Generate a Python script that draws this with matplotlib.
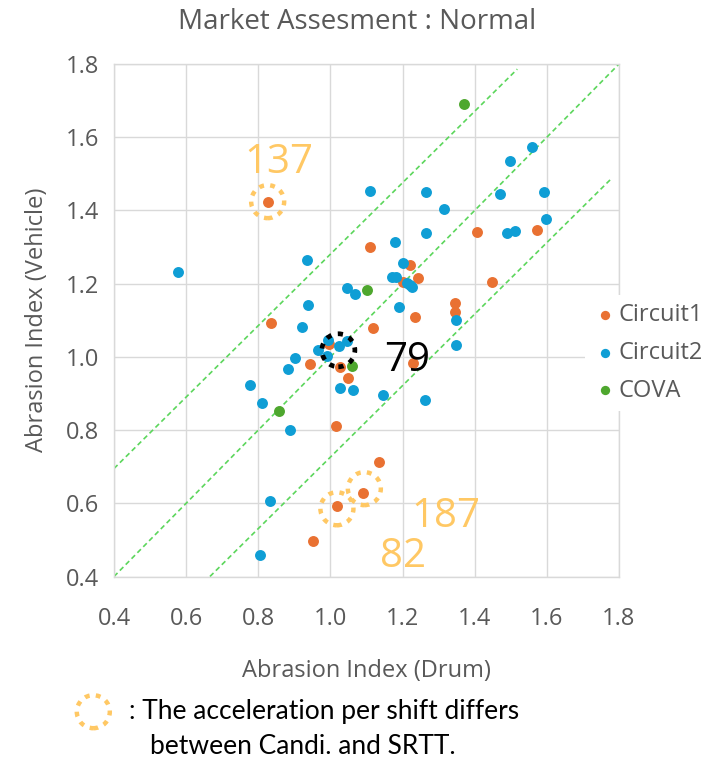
import matplotlib
matplotlib.use("Agg")
import matplotlib.pyplot as plt
from matplotlib.patches import Ellipse, Circle

plt.rcParams["font.family"] = ["Open Sans", "DejaVu Sans"]

circuit1_x = [0.826, 1.109, 0.834, 1.407, 1.574, 1.220, 1.243, 1.201, 1.449, 1.234, 1.346,
              1.345, 1.118, 1.229, 1.135, 1.091, 1.018, 0.952, 1.016, 0.942, 1.027, 1.050, 0.996]
circuit1_y = [1.424, 1.300, 1.093, 1.340, 1.347, 1.251, 1.216, 1.205, 1.204, 1.110, 1.146,
              1.123, 1.078, 0.982, 0.712, 0.627, 0.592, 0.498, 0.810, 0.980, 0.973, 0.943, 1.036]

circuit2_x = [0.577, 0.934, 1.046, 1.068, 0.937, 1.109, 1.559, 1.498, 1.266, 1.471, 1.592,
              1.315, 1.599, 1.489, 1.512, 1.266, 1.179, 1.200, 1.172, 1.183, 1.211, 1.220,
              1.226, 1.189, 1.349, 1.347, 1.145, 1.261, 0.920, 0.994, 0.966, 1.025, 1.045,
              0.990, 0.903, 0.882, 0.776, 1.027, 1.063, 0.810, 0.888, 0.832, 0.806]
circuit2_y = [1.232, 1.264, 1.187, 1.171, 1.143, 1.453, 1.572, 1.535, 1.450, 1.445, 1.449,
              1.405, 1.376, 1.338, 1.343, 1.338, 1.314, 1.257, 1.217, 1.218, 1.202, 1.196,
              1.190, 1.135, 1.102, 1.032, 0.896, 0.881, 1.082, 1.046, 1.020, 1.030, 1.044,
              1.003, 0.997, 0.966, 0.923, 0.914, 0.909, 0.874, 0.800, 0.605, 0.458]

cova_x = [1.370, 1.100, 1.059, 0.858]
cova_y = [1.690, 1.183, 0.976, 0.852]

# guide lines (start, end) in data units
guide_center = ([0.4, 1.8], [0.4, 1.8])
guide_upper = ([0.4, 1.518], [0.695, 1.786])
guide_lower = ([0.666, 1.780], [0.4, 1.488])

# highlighted samples: label, circle centre, label position
yellow_marks = [("137", (0.826, 1.424), (0.856, 1.530)),
                ("187", (1.018, 0.585), (1.320, 0.563)),
                ("82", (1.094, 0.640), (1.201, 0.453))]
black_mark = ("79", (1.022, 1.018), (1.212, 0.990))

orange = "#E97132"
blue = "#0F9ED5"
green = "#4EA72E"
yellow = "#FFC864"
gray = "#595959"
guide_color = "#5CD65C"

fig = plt.figure(figsize=(7.05, 7.57), dpi=100)
ax = fig.add_axes([114 / 705, 1 - 576.5 / 757, 505 / 705, 512.5 / 757])

for gx, gy in (guide_center, guide_upper, guide_lower):
    ax.plot(gx, gy, color=guide_color, lw=1.2, ls=(0, (3, 2)), zorder=2)

ax.scatter(circuit1_x, circuit1_y, s=62, color=orange, label="Circuit1", zorder=3, linewidths=0)
ax.scatter(circuit2_x, circuit2_y, s=62, color=blue, label="Circuit2", zorder=3, linewidths=0)
ax.scatter(cova_x, cova_y, s=62, color=green, label="COVA", zorder=3, linewidths=0)

rx = 16.5 / 360.7
ry = 16.5 / 366
for label, (cx, cy), (tx, ty) in yellow_marks:
    ax.add_patch(Ellipse((cx, cy), 2 * rx, 2 * ry, fill=False, edgecolor=yellow,
                         lw=3.2, ls=(0, (1.1, 1.4)), zorder=4))
    ax.text(tx, ty, label, color=yellow, fontsize=29, ha="center", va="center", zorder=5)

label, (cx, cy), (tx, ty) = black_mark
ax.add_patch(Ellipse((cx, cy), 2 * rx, 2 * ry, fill=False, edgecolor="black",
                     lw=3.4, ls=(0, (1.1, 1.4)), zorder=4))
ax.text(tx, ty, label, color="black", fontsize=29, ha="center", va="center", zorder=5)

ax.set_xlim(0.4, 1.8)
ax.set_ylim(0.4, 1.8)
ticks = [0.4, 0.6, 0.8, 1.0, 1.2, 1.4, 1.6, 1.8]
ax.set_xticks(ticks)
ax.set_yticks(ticks)
ax.set_xticklabels([f"{t:.1f}" for t in ticks])
ax.set_yticklabels([f"{t:.1f}" for t in ticks])
ax.tick_params(length=0, labelsize=17, labelcolor=gray)
ax.tick_params(axis="x", pad=22)
ax.tick_params(axis="y", pad=11)
ax.grid(True, color="#D9D9D9", lw=1.0)
ax.set_axisbelow(True)
for sp in ax.spines.values():
    sp.set_color("#D9D9D9")
    sp.set_linewidth(1.0)

ax.set_xlabel("Abrasion Index (Drum)", fontsize=17, color=gray, labelpad=20)
ax.set_ylabel("Abrasion Index (Vehicle)", fontsize=17, color=gray, labelpad=12)
fig.text(357 / 705, 1 - 22 / 757, "Market Assesment : Normal", fontsize=20, color=gray,
         ha="center", va="center")

leg = ax.legend(loc="upper left", bbox_to_anchor=(585 / 705, 1 - 295 / 757),
                bbox_transform=fig.transFigure, frameon=True, facecolor="white",
                edgecolor="none", framealpha=1, fancybox=False, borderaxespad=0,
                fontsize=17, labelcolor=gray, handletextpad=0.05, handlelength=1.0,
                labelspacing=0.58, borderpad=0.35, markerscale=0.85)
leg.set_zorder(6)

fig.add_artist(Circle((0.933, 7.57 - 7.117), 0.165, transform=fig.dpi_scale_trans,
                      fill=False, edgecolor=yellow, lw=3.2, ls=(0, (1.1, 1.4))))
fig.text(129 / 705, 1 - 712 / 757, ": The acceleration per shift differs", fontsize=19,
         color="black", ha="left", va="center", family=["Lato", "DejaVu Sans"])
fig.text(150 / 705, 1 - 746 / 757, "between Candi. and SRTT.", fontsize=19,
         color="black", ha="left", va="center", family=["Lato", "DejaVu Sans"])

fig.savefig("out.png", dpi=100)
